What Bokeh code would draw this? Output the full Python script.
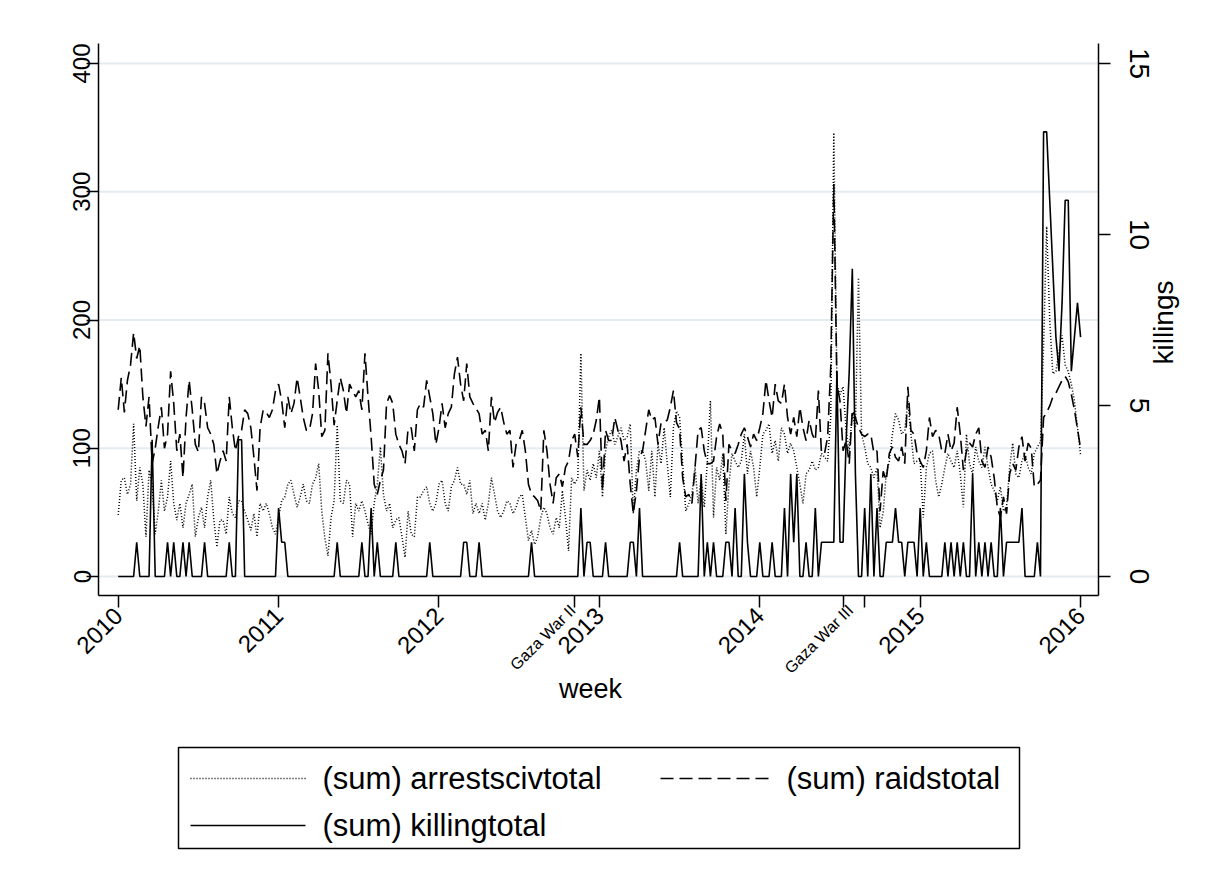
import math
from bokeh.plotting import figure
from bokeh.models import Range1d, LinearAxis, FixedTicker, ColumnDataSource, Label
from bokeh.layouts import column
from bokeh.core.properties import value
from bokeh.embed import file_html
from bokeh.resources import INLINE

FONT = "Liberation Sans"

# ---------------- data (weekly sums, 2010w1 .. 2016w1) ----------------
start_year = 2010
weeks_per_year = 52

arrests_2010 = [48, 75, 77, 64, 72, 119, 59, 85, 72, 31, 83, 72, 33, 51, 75, 51, 62, 90, 57, 44,
                57, 38, 57, 64, 72, 31, 46, 54, 38, 62, 75, 44, 23, 44, 44, 33, 62, 49, 46, 59,
                59, 51, 44, 36, 49, 31, 57, 51, 57, 49, 38, 33]
arrests_2011 = [46, 59, 62, 72, 75, 64, 54, 62, 72, 59, 57, 72, 77, 88, 51, 30, 16, 46, 59, 118,
                59, 57, 75, 72, 31, 57, 51, 59, 51, 41, 33, 57, 72, 101, 64, 51, 57, 38, 44, 46,
                31, 15, 51, 33, 31, 62, 62, 67, 70, 57, 51, 57]
arrests_2012 = [72, 75, 57, 51, 70, 75, 85, 72, 72, 64, 75, 49, 57, 49, 57, 44, 57, 77, 64, 51,
                46, 51, 59, 57, 49, 54, 62, 64, 46, 28, 36, 25, 31, 46, 54, 49, 38, 33, 46, 38,
                67, 46, 20, 77, 72, 77, 174, 67, 83, 75, 88, 77]
arrests_2013 = [98, 62, 98, 109, 114, 103, 109, 116, 106, 109, 119, 49, 83, 98, 98, 90, 67, 98, 62, 103,
                88, 116, 88, 62, 116, 129, 124, 88, 51, 57, 64, 85, 57, 77, 54, 90, 137, 46, 85, 75,
                96, 33, 72, 96, 90, 85, 90, 111, 80, 98, 85, 62]
arrests_2014 = [85, 111, 114, 119, 96, 106, 90, 116, 111, 96, 104, 98, 85, 72, 57, 80, 83, 90, 83, 85,
                96, 93, 90, 124, 346, 150, 142, 148, 114, 98, 127, 116, 233, 111, 101, 88, 85, 77, 85, 38,
                50, 80, 90, 111, 127, 122, 111, 114, 137, 111, 88, 90]
arrests_2015 = [90, 46, 85, 96, 98, 75, 62, 72, 85, 96, 90, 85, 98, 80, 54, 111, 88, 80, 101, 90,
                85, 101, 85, 72, 67, 59, 70, 51, 54, 85, 104, 80, 77, 90, 96, 85, 80, 96, 101, 105,
                180, 273, 200, 158, 160, 175, 188, 165, 160, 150, 137, 116]
arrests_2016 = [95]

raids_2010 = [130, 155, 128, 153, 165, 190, 170, 180, 140, 117, 140, 88, 100, 117, 132, 100, 111, 160, 135, 98,
              111, 77, 124, 153, 130, 103, 97, 140, 135, 116, 111, 103, 80, 90, 98, 90, 140, 116, 98, 109,
              114, 130, 127, 116, 93, 67, 116, 130, 128, 124, 130, 145]
raids_2011 = [150, 137, 116, 140, 127, 135, 155, 140, 124, 114, 114, 127, 166, 145, 109, 114, 174, 150, 118, 137,
              155, 145, 127, 150, 145, 140, 145, 130, 174, 140, 109, 72, 64, 75, 83, 135, 141, 135, 111, 103,
              98, 88, 116, 116, 98, 130, 135, 132, 153, 140, 127, 103]
raids_2012 = [116, 135, 116, 127, 132, 158, 171, 150, 137, 166, 140, 135, 131, 127, 111, 114, 98, 140, 120, 128,
              132, 120, 111, 114, 85, 103, 106, 114, 98, 72, 64, 62, 59, 51, 114, 98, 72, 57, 77, 80,
              70, 85, 90, 106, 111, 93, 132, 103, 103, 106, 111, 122]
raids_2013 = [140, 67, 114, 106, 106, 124, 114, 106, 90, 103, 72, 49, 67, 93, 98, 114, 130, 122, 124, 103,
              120, 120, 122, 132, 145, 120, 115, 77, 62, 64, 57, 85, 114, 116, 98, 88, 88, 90, 109, 119,
              111, 59, 103, 98, 96, 103, 111, 116, 109, 101, 111, 106]
raids_2014 = [116, 127, 153, 137, 124, 150, 137, 135, 150, 124, 111, 124, 109, 132, 116, 106, 122, 111, 106, 145,
              96, 96, 109, 163, 306, 150, 137, 98, 106, 88, 130, 124, 116, 111, 109, 111, 111, 96, 98, 51,
              82, 75, 96, 101, 93, 90, 101, 88, 148, 114, 111, 96]
raids_2015 = [90, 85, 98, 124, 109, 114, 111, 98, 96, 111, 98, 104, 132, 111, 83, 98, 104, 101, 111, 116,
              90, 85, 101, 93, 77, 54, 46, 62, 49, 80, 88, 83, 101, 109, 90, 104, 100, 70, 72, 75,
              124, 128, 133, 140, 143, 148, 153, 156, 152, 142, 130, 115]
raids_2016 = [100]

killing_2010 = [0, 0, 0, 0, 0, 0, 1, 0, 0, 0, 0, 4, 0, 0, 0, 0, 1, 0, 1, 0,
                0, 1, 0, 1, 0, 0, 0, 0, 1, 0, 0, 0, 0, 0, 0, 0, 1, 0, 0, 4,
                4, 0, 0, 0, 0, 0, 0, 0, 0, 0, 0, 0]
killing_2011 = [2, 1, 1, 0, 0, 0, 0, 0, 0, 0, 0, 0, 0, 0, 0, 0, 0, 0, 0, 1,
                0, 0, 0, 0, 0, 0, 0, 1, 0, 0, 2, 0, 1, 0, 0, 0, 0, 0, 1, 0,
                0, 0, 0, 0, 0, 0, 0, 0, 0, 1, 0, 0]
killing_2012 = [0, 0, 0, 0, 0, 0, 0, 0, 1, 1, 0, 0, 0, 1, 0, 0, 0, 0, 0, 0,
                0, 0, 0, 0, 0, 0, 0, 0, 0, 0, 1, 0, 0, 0, 0, 0, 0, 0, 0, 0,
                0, 0, 0, 0, 0, 0, 2, 0, 1, 1, 0, 0]
killing_2013 = [0, 0, 1, 0, 0, 0, 0, 0, 0, 0, 1, 1, 0, 2, 0, 0, 0, 0, 0, 0,
                0, 0, 0, 0, 0, 0, 1, 0, 0, 0, 0, 0, 0, 3, 0, 1, 0, 1, 0, 0,
                0, 1, 1, 0, 2, 0, 0, 3, 1, 0, 0, 0]
killing_2014 = [1, 0, 0, 0, 1, 0, 0, 0, 2, 0, 3, 1, 3, 0, 0, 1, 0, 0, 2, 0,
                1, 1, 1, 1, 1, 6, 1, 1, 4, 6, 9, 3, 0, 0, 2, 0, 3, 0, 2, 0,
                0, 1, 1, 1, 2, 1, 1, 0, 1, 1, 1, 0]
killing_2015 = [2, 0, 1, 0, 0, 0, 0, 0, 1, 0, 1, 0, 1, 0, 1, 0, 0, 3, 0, 1,
                0, 1, 0, 1, 0, 0, 2, 0, 1, 1, 1, 1, 1, 2, 0, 0, 0, 0, 1, 0,
                13, 13, 11, 9, 7, 6, 8, 11, 11, 6, 7, 8]
killing_2016 = [7]

arrests = arrests_2010 + arrests_2011 + arrests_2012 + arrests_2013 + arrests_2014 + arrests_2015 + arrests_2016
raids = raids_2010 + raids_2011 + raids_2012 + raids_2013 + raids_2014 + raids_2015 + raids_2016
killing = killing_2010 + killing_2011 + killing_2012 + killing_2013 + killing_2014 + killing_2015 + killing_2016
week = [start_year + i / weeks_per_year for i in range(len(arrests))]

year_ticks = [2010, 2011, 2012, 2013, 2014, 2015, 2016]
event_ticks = [2012 + 44 / 52, 2014 + 27 / 52, 2014 + 34 / 52]
event_labels = ["Gaza War II", "Gaza War III"]
event_label_weeks = [2012 + 45 / 52, 2014 + 31 / 52]
left_ticks = [0, 100, 200, 300, 400]
right_ticks = [0, 5, 10, 15]

legend_labels = ["(sum) arrestscivtotal", "(sum) raidstotal", "(sum) killingtotal"]

source = ColumnDataSource(dict(week=week, arrests=arrests, raids=raids, killing=killing))

# ---------------- geometry ----------------
W, H = 1198, 728                      # main figure (frame covers the whole figure)
PL, PR, PT, PB = 98, 1098, 43, 595    # plot region in pixels
XL, XR = 2009.8772, 2016.1117         # plot region in weeks (years)
YB, YT = -14.815, 415.6               # left axis range
KB, KT = -0.5556, 15.585              # right axis range

xs = (PR - PL) / (XR - XL)
ys = (PB - PT) / (YT - YB)
ks = (PB - PT) / (KT - KB)
x_start, x_end = XL - PL / xs, XR + (W - PR) / xs
y_start, y_end = YB - (H - PB) / ys, YT + PT / ys
k_start, k_end = KB - (H - PB) / ks, KT + PT / ks


def xd(px):
    return x_start + px / xs


def yd(py):
    return y_end - py / ys


p = figure(frame_width=W, frame_height=H, min_border=0,
           x_range=Range1d(x_start, x_end), y_range=Range1d(y_start, y_end),
           output_backend="svg", toolbar_location=None, background_fill_color="white",
           border_fill_color="white")
p.extra_y_ranges = {"kill": Range1d(k_start, k_end)}
p.outline_line_color = None

# horizontal grid lines limited to the plot region
p.xgrid.visible = False
p.ygrid.visible = False
p.segment(x0=[XL] * len(left_ticks), x1=[XR] * len(left_ticks), y0=left_ticks, y1=left_ticks,
          line_color="#e4ecf0", line_width=2)

p.line("week", "arrests", source=source, line_color="black", line_width=1.5, line_dash="1 2")
p.line("week", "raids", source=source, line_color="black", line_width=1.6, line_dash="13 6")
p.line("week", "killing", source=source, y_range_name="kill", line_color="black", line_width=1.6)


def style_axis(ax, size="24px"):
    ax.axis_line_color = "black"
    ax.axis_line_width = 1.5
    ax.major_tick_line_color = "black"
    ax.major_tick_line_width = 1.5
    ax.major_tick_in = 0
    ax.major_tick_out = 12
    ax.minor_tick_line_color = None
    ax.major_label_text_font = FONT
    ax.major_label_text_font_size = size
    ax.major_label_text_color = "black"


xa = p.xaxis[0]
style_axis(xa)
xa.fixed_location = YB
xa.bounds = (XL, XR)
xa.ticker = FixedTicker(ticks=year_ticks + event_ticks)
xa.major_label_overrides = {t: "" for t in event_ticks}
xa.major_label_orientation = math.pi / 4
xa.major_label_standoff = 4

ya = p.yaxis[0]
style_axis(ya)
ya.fixed_location = XL
ya.bounds = (YB, YT)
ya.ticker = FixedTicker(ticks=left_ticks)
ya.major_label_orientation = "vertical"
ya.major_label_standoff = -4

ra = LinearAxis(y_range_name="kill", ticker=FixedTicker(ticks=right_ticks), fixed_location=XR,
                bounds=(KB, KT))
style_axis(ra, "28px")
ra.major_label_orientation = "vertical"
ra.major_label_standoff = 19
p.add_layout(ra, "right")

# axis titles and event labels
p.add_layout(Label(x=xd(590), y=yd(688), text="week", text_align="center", text_baseline="middle",
                   text_font=FONT, text_font_size="27px", text_color="black"))
p.add_layout(Label(x=xd(1163), y=yd(322), text="killings", angle=math.pi / 2, text_align="center",
                   text_baseline="middle", text_font=FONT, text_font_size="28px", text_color="black"))
for lbl, wk in zip(event_labels, event_label_weeks):
    p.add_layout(Label(x=wk - 5 / xs, y=yd(607), text=lbl, angle=math.pi / 4, text_align="right",
                       text_baseline="middle", text_font=FONT, text_font_size="16px",
                       text_color="black"))

# ---------------- legend (drawn below the chart) ----------------
lg = figure(frame_width=W, frame_height=150, min_border=0, x_range=Range1d(0, W),
            y_range=Range1d(150, 0), output_backend="svg", toolbar_location=None)
lg.axis.visible = False
lg.grid.visible = False
lg.outline_line_color = None
lg.quad(left=[178], right=[1019], top=[19], bottom=[120], fill_color=None,
        line_color="black", line_width=1.5)
lg.line([190, 305], [50, 50], line_color="black", line_width=1.5, line_dash="1 2")
lg.line([660, 770], [50, 50], line_color="black", line_width=1.6, line_dash="13 6")
lg.line([190, 305], [97, 97], line_color="black", line_width=1.6)
lg.text(x=[322, 786, 322], y=[50, 50, 97], text=legend_labels, text_font=value(FONT),
        text_font_size="31px", text_baseline="middle", text_align="left", text_color="black")

layout = column(p, lg)
open("out.html", "w").write(file_html(layout, INLINE))
